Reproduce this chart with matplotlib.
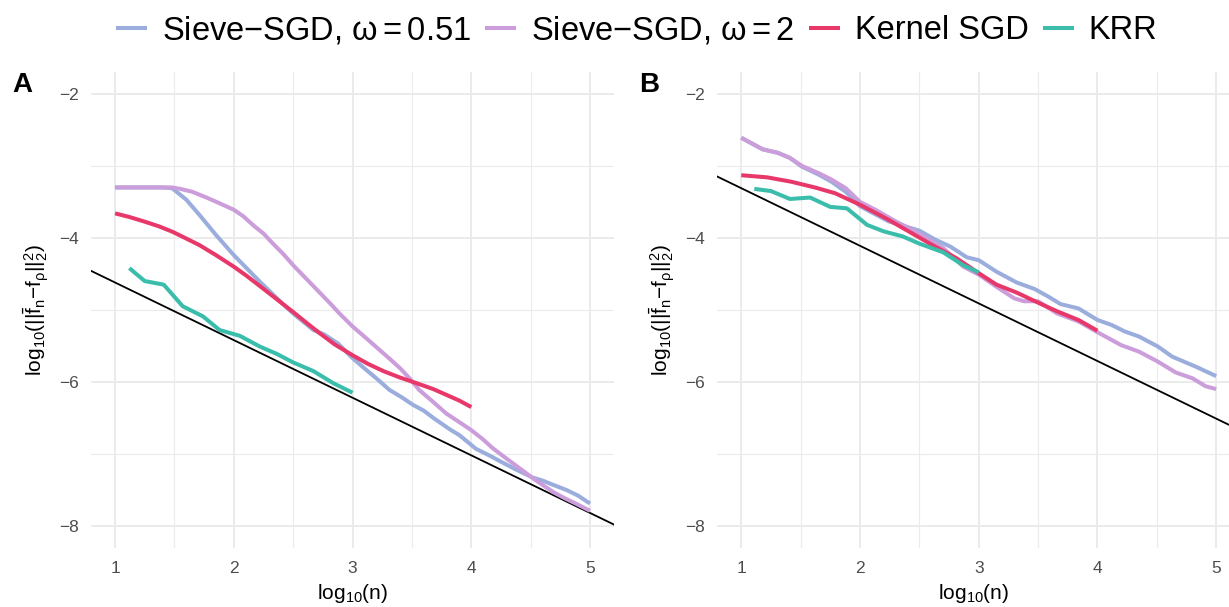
import numpy as np
import matplotlib
matplotlib.use("Agg")
import matplotlib.pyplot as plt
from matplotlib.ticker import MultipleLocator

plt.rcParams['font.family'] = ['Liberation Sans', 'DejaVu Sans']
plt.rcParams['mathtext.fontset'] = 'custom'
plt.rcParams['mathtext.rm'] = 'Liberation Sans'
plt.rcParams['mathtext.it'] = 'Liberation Sans'
plt.rcParams['mathtext.bf'] = 'Liberation Sans:bold'

# ---- panel A data (log10 n, log10 error) ----
a_sieve051_x = [1.0, 1.2, 1.4, 1.48, 1.6, 1.71, 1.85, 2.0, 2.22, 2.44, 2.5, 2.67, 2.76, 2.88, 3.0,
                3.12, 3.2, 3.31, 3.42, 3.51, 3.6, 3.68, 3.82, 3.9, 4.04, 4.15, 4.24, 4.38, 4.52,
                4.6, 4.69, 4.8, 4.9, 5.0]
a_sieve051_y = [-3.30, -3.30, -3.30, -3.31, -3.47, -3.68, -3.96, -4.24, -4.61, -4.96, -5.05, -5.28,
                -5.34, -5.47, -5.67, -5.84, -5.95, -6.11, -6.22, -6.32, -6.40, -6.50, -6.66, -6.74,
                -6.93, -7.02, -7.10, -7.22, -7.33, -7.37, -7.43, -7.50, -7.58, -7.69]

a_sieve2_x = [1.0, 1.2, 1.4, 1.48, 1.55, 1.65, 1.77, 1.88, 2.0, 2.08, 2.16, 2.25, 2.33, 2.42, 2.5,
              2.6, 2.7, 2.8, 2.89, 3.0, 3.12, 3.23, 3.32, 3.4, 3.48, 3.56, 3.68, 3.79, 3.9, 4.0,
              4.1, 4.18, 4.26, 4.35, 4.44, 4.52, 4.6, 4.69, 4.78, 4.88, 5.0]
a_sieve2_y = [-3.30, -3.30, -3.30, -3.30, -3.32, -3.36, -3.44, -3.52, -3.61, -3.70, -3.82, -3.94,
              -4.08, -4.23, -4.38, -4.55, -4.72, -4.89, -5.05, -5.23, -5.40, -5.56, -5.69, -5.81,
              -5.95, -6.11, -6.28, -6.44, -6.56, -6.67, -6.80, -6.92, -7.02, -7.13, -7.24, -7.34,
              -7.43, -7.53, -7.61, -7.69, -7.79]

a_kernel_x = [1.0, 1.12, 1.24, 1.37, 1.49, 1.6, 1.71, 1.85, 2.0, 2.11, 2.22, 2.36, 2.5, 2.62, 2.72,
              2.85, 3.0, 3.13, 3.26, 3.4, 3.56, 3.68, 3.79, 3.9, 4.0]
a_kernel_y = [-3.66, -3.71, -3.77, -3.84, -3.92, -4.01, -4.10, -4.24, -4.40, -4.53, -4.67, -4.85,
              -5.03, -5.19, -5.32, -5.48, -5.63, -5.75, -5.85, -5.94, -6.03, -6.10, -6.18, -6.26,
              -6.35]

a_krr_x = [1.12, 1.25, 1.41, 1.57, 1.74, 1.88, 2.05, 2.22, 2.36, 2.5, 2.67, 2.84, 3.0]
a_krr_y = [-4.42, -4.60, -4.65, -4.95, -5.09, -5.28, -5.36, -5.51, -5.61, -5.73, -5.85, -6.02, -6.15]

# ---- panel B data ----
b_sieve051_x = [1.0, 1.18, 1.31, 1.41, 1.51, 1.65, 1.76, 1.88, 2.0, 2.24, 2.5, 2.64, 2.76, 2.9, 3.0,
                3.15, 3.32, 3.47, 3.58, 3.69, 3.84, 4.0, 4.12, 4.23, 4.35, 4.51, 4.63, 4.83, 5.0]
b_sieve051_y = [-2.61, -2.77, -2.82, -2.89, -3.01, -3.12, -3.22, -3.36, -3.56, -3.77, -3.90, -4.03,
                -4.12, -4.27, -4.31, -4.47, -4.62, -4.71, -4.81, -4.92, -4.98, -5.14, -5.21, -5.30,
                -5.37, -5.51, -5.65, -5.79, -5.92]

b_sieve2_x = [1.0, 1.18, 1.31, 1.41, 1.51, 1.65, 1.76, 1.88, 2.0, 2.13, 2.3, 2.5, 2.7, 2.87, 3.0,
              3.15, 3.3, 3.38, 3.5, 3.66, 3.84, 4.0, 4.2, 4.35, 4.51, 4.66, 4.8, 4.91, 5.0]
b_sieve2_y = [-2.61, -2.77, -2.82, -2.89, -3.00, -3.10, -3.19, -3.31, -3.50, -3.61, -3.77, -3.94,
              -4.14, -4.40, -4.51, -4.68, -4.84, -4.88, -4.88, -5.05, -5.16, -5.31, -5.49, -5.58,
              -5.72, -5.87, -5.95, -6.06, -6.10]

b_kernel_x = [1.0, 1.22, 1.42, 1.62, 1.79, 2.0, 2.22, 2.41, 2.61, 2.81, 3.0, 3.15, 3.32, 3.5, 3.66,
              3.84, 4.0]
b_kernel_y = [-3.13, -3.16, -3.22, -3.30, -3.38, -3.54, -3.73, -3.91, -4.10, -4.28, -4.49, -4.65,
              -4.76, -4.90, -5.02, -5.14, -5.29]

b_krr_x = [1.11, 1.25, 1.41, 1.58, 1.75, 1.89, 2.06, 2.2, 2.36, 2.5, 2.7, 2.87, 3.0]
b_krr_y = [-3.32, -3.35, -3.46, -3.44, -3.57, -3.59, -3.82, -3.91, -3.98, -4.08, -4.20, -4.38, -4.48]

# reference slope lines: y = intercept + slope * x
ref_slope = -0.8
a_ref_intercept = -3.82
b_ref_intercept = -2.51

labels = [r'Sieve$-$SGD, $\omega = 0.51$', r'Sieve$-$SGD, $\omega = 2$', 'Kernel SGD', 'KRR']
colors = ['#9AADDC', '#CC9DDB', '#E8386A', '#3BBDAB']

panels = [
    ('A', [(a_sieve051_x, a_sieve051_y), (a_sieve2_x, a_sieve2_y), (a_kernel_x, a_kernel_y),
           (a_krr_x, a_krr_y)], a_ref_intercept),
    ('B', [(b_sieve051_x, b_sieve051_y), (b_sieve2_x, b_sieve2_y), (b_kernel_x, b_kernel_y),
           (b_krr_x, b_krr_y)], b_ref_intercept),
]

fig = plt.figure(figsize=(12.29, 6.07), dpi=100)
ax_a = fig.add_axes([0.0743, 0.098, 0.4251, 0.783])
ax_b = fig.add_axes([0.5838, 0.098, 0.4162, 0.783])

ylabel = r'$\mathrm{log}_{10}(||\bar{\mathrm{f}}_{\mathrm{n}}{-}\mathrm{f}_{\rho}||_2^2)$'

for ax, (tag, series, intercept) in zip([ax_a, ax_b], panels):
    lines = []
    for (xs, ys), col, lab in zip(series, colors, labels):
        ln, = ax.plot(xs, ys, color=col, lw=2.9, label=lab, solid_capstyle='butt',
                      solid_joinstyle='round', zorder=3)
        lines.append(ln)
    xr = np.array([0.0, 6.0])
    ax.plot(xr, intercept + ref_slope * xr, color='black', lw=1.3, zorder=2)

    ax.set_xlim(0.8, 5.2)
    ax.set_ylim(-8.3, -1.7)
    ax.xaxis.set_major_locator(MultipleLocator(1))
    ax.xaxis.set_minor_locator(MultipleLocator(0.5))
    ax.yaxis.set_major_locator(MultipleLocator(2))
    ax.yaxis.set_minor_locator(MultipleLocator(1))
    ax.set_yticks([-2, -4, -6, -8])
    ax.set_yticklabels(['\u22122', '\u22124', '\u22126', '\u22128'])
    ax.grid(True, which='major', color='#EBEBEB', lw=1.4, zorder=0)
    ax.grid(True, which='minor', color='#EBEBEB', lw=0.8, zorder=0)
    ax.set_axisbelow(True)
    for s in ax.spines.values():
        s.set_visible(False)
    ax.tick_params(which='both', length=0, labelsize=12.5, labelcolor='#4D4D4D', pad=9)
    ax.tick_params(axis='x', pad=10)
    ax.set_xlabel(r'$\mathrm{log}_{10}(\mathrm{n})$', fontsize=15, labelpad=4)
    ax.set_ylabel(ylabel, fontsize=15, labelpad=6)

# panel B is cropped at the right edge of the figure
ax_b.set_xlim(0.8, 5.108)

fig.text(0.010, 0.848, 'A', fontsize=20, fontweight='bold')
fig.text(0.520, 0.848, 'B', fontsize=20, fontweight='bold')

fig.legend(lines, labels, loc='center', bbox_to_anchor=(0.518, 0.95), ncol=4, frameon=False,
           fontsize=23.5, handlelength=0.95, handletextpad=0.45, columnspacing=0.45)

fig.savefig('out.png', dpi=100)
